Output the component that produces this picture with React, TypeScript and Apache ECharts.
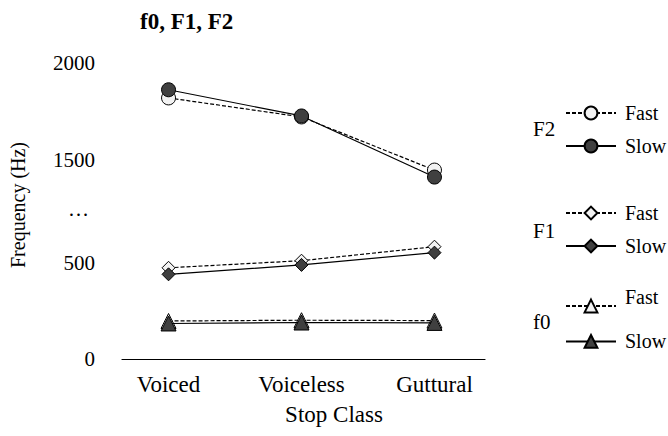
import React, { useEffect, useRef } from "react";
import * as echarts from "echarts";

const categories = ["Voiced", "Voiceless", "Guttural"];
const f2Fast = [1820, 1722, 1448];
const f2Slow = [1862, 1727, 1412];
const f1Fast = [475, 512, 585];
const f1Slow = [441, 490, 554];
const f0Fast = [198, 202, 200];
const f0Slow = [185, 190, 188];
const upperTicks = [1250, 1500, 1750, 2000];
const lowerTicks = [0, 250, 500, 750];

const FONT = "Liberation Serif, Times New Roman, Tinos, DejaVu Serif, serif";
const FAST_FILL = "#f2f2f2";
const SLOW_FILL = "#404040";

const toPoints = (arr: number[]) => categories.map((_, i) => [i, arr[i]]);

function mkSeries(name: string, data: number[], symbol: string, size: number, fast: boolean, axis: number) {
  return {
    name,
    type: "line",
    xAxisIndex: axis,
    yAxisIndex: axis,
    data: toPoints(data),
    symbol,
    symbolSize: size,
    showAllSymbol: true,
    itemStyle: { color: fast ? FAST_FILL : SLOW_FILL, borderColor: "#000", borderWidth: 1 },
    lineStyle: { color: "#000", width: 1.2, type: fast ? [4, 2] : "solid" },
    emphasis: { disabled: true },
    z: fast ? 2 : 3,
  };
}

function mkLegend(names: string[], top: number, gap: number, raiseFirst = false) {
  return {
    data: names,
    orient: "vertical",
    left: 565,
    top,
    padding: 0,
    itemWidth: 50,
    itemHeight: 16,
    itemGap: gap,
    selectedMode: false,
    formatter: (n: string) => {
      const label = n.split(" ")[1];
      return raiseFirst && n === names[0] ? `{up|${label}}` : `{n|${label}}`;
    },
    textStyle: {
      fontFamily: FONT,
      fontSize: 20,
      color: "#000",
      rich: {
        n: { fontFamily: FONT, fontSize: 20, color: "#000", padding: [0, 0, 0, 4] },
        up: { fontFamily: FONT, fontSize: 20, color: "#000", padding: [0, 0, 18, 4] },
      },
    },
  };
}

export default function App() {
  const ref = useRef<HTMLDivElement>(null);
  useEffect(() => {
    document.body.style.margin = "0";
    if (!ref.current) return;
    const chart = echarts.init(ref.current, null, { renderer: "svg" });
    const xBase = { type: "value", min: -0.35, max: 2.38 };
    chart.setOption({
      animation: false,
      textStyle: { fontFamily: FONT, color: "#000" },
      title: [
        {
          text: "f0, F1, F2",
          left: 135,
          top: 5,
          textStyle: { fontFamily: FONT, fontSize: 23, fontWeight: "bold", color: "#000" },
        },
        {
          text: "Stop Class",
          left: "center",
          top: 398,
          textStyle: { fontFamily: FONT, fontSize: 23, fontWeight: "normal", color: "#000" },
        },
      ],
      grid: [
        { left: 122, right: 183, top: 63, height: 145.5 },
        { left: 122, right: 183, top: 215, height: 144 },
      ],
      xAxis: [
        { ...xBase, gridIndex: 0, show: false },
        {
          ...xBase,
          gridIndex: 1,
          axisLine: { show: true, lineStyle: { color: "#000", width: 1.2 } },
          axisTick: { show: false },
          splitLine: { show: false },
          axisLabel: {
            customValues: [0, 1, 2],
            formatter: (v: number) => categories[Math.round(v)] ?? "",
            fontFamily: FONT,
            fontSize: 23,
            color: "#000",
            margin: 14,
          },
        },
      ],
      yAxis: [
        {
          type: "value",
          gridIndex: 0,
          min: upperTicks[0],
          max: upperTicks[upperTicks.length - 1],
          interval: 250,
          axisLine: { show: false },
          axisTick: { show: false },
          splitLine: { show: false },
          axisLabel: {
            fontFamily: FONT,
            fontSize: 21,
            color: "#000",
            margin: 27,
            formatter: (v: number) => (v === 1250 ? "{d|…}" : v === 1750 ? "" : String(v)),
            rich: { d: { fontFamily: FONT, fontSize: 21, color: "#000", padding: [0, 6, 0, 0] } },
          },
        },
        {
          type: "value",
          gridIndex: 1,
          min: lowerTicks[0],
          max: lowerTicks[lowerTicks.length - 1],
          interval: 250,
          axisLine: { show: false },
          axisTick: { show: false },
          splitLine: { show: false },
          axisLabel: {
            fontFamily: FONT,
            fontSize: 21,
            color: "#000",
            margin: 27,
            formatter: (v: number) => (v === 0 || v === 500 ? String(v) : ""),
          },
        },
      ],
      legend: [
        mkLegend(["F2 Fast", "F2 Slow"], 103, 13),
        mkLegend(["F1 Fast", "F1 Slow"], 203, 13),
        mkLegend(["f0 Fast", "f0 Slow"], 287, 18, true),
      ],
      graphic: [
        {
          type: "text",
          x: 18,
          y: 205,
          rotation: Math.PI / 2,
          style: { text: "Frequency (Hz)", fontFamily: FONT, fontSize: 20, fill: "#000", align: "center", verticalAlign: "middle" },
        },
        { type: "text", x: 533, y: 129, style: { text: "F2", fontFamily: FONT, fontSize: 21, fill: "#000", verticalAlign: "middle" } },
        { type: "text", x: 533, y: 231, style: { text: "F1", fontFamily: FONT, fontSize: 21, fill: "#000", verticalAlign: "middle" } },
        { type: "text", x: 533, y: 322, style: { text: "f0", fontFamily: FONT, fontSize: 21, fill: "#000", verticalAlign: "middle" } },
      ],
      series: [
        mkSeries("F2 Fast", f2Fast, "circle", 14, true, 0),
        mkSeries("F2 Slow", f2Slow, "circle", 14, false, 0),
        mkSeries("F1 Fast", f1Fast, "diamond", 13, true, 1),
        mkSeries("F1 Slow", f1Slow, "diamond", 13, false, 1),
        mkSeries("f0 Fast", f0Fast, "triangle", 15, true, 1),
        mkSeries("f0 Slow", f0Slow, "triangle", 15, false, 1),
      ],
    });
    return () => chart.dispose();
  }, []);
  return <div ref={ref} style={{ width: 668, height: 436 }} />;
}
